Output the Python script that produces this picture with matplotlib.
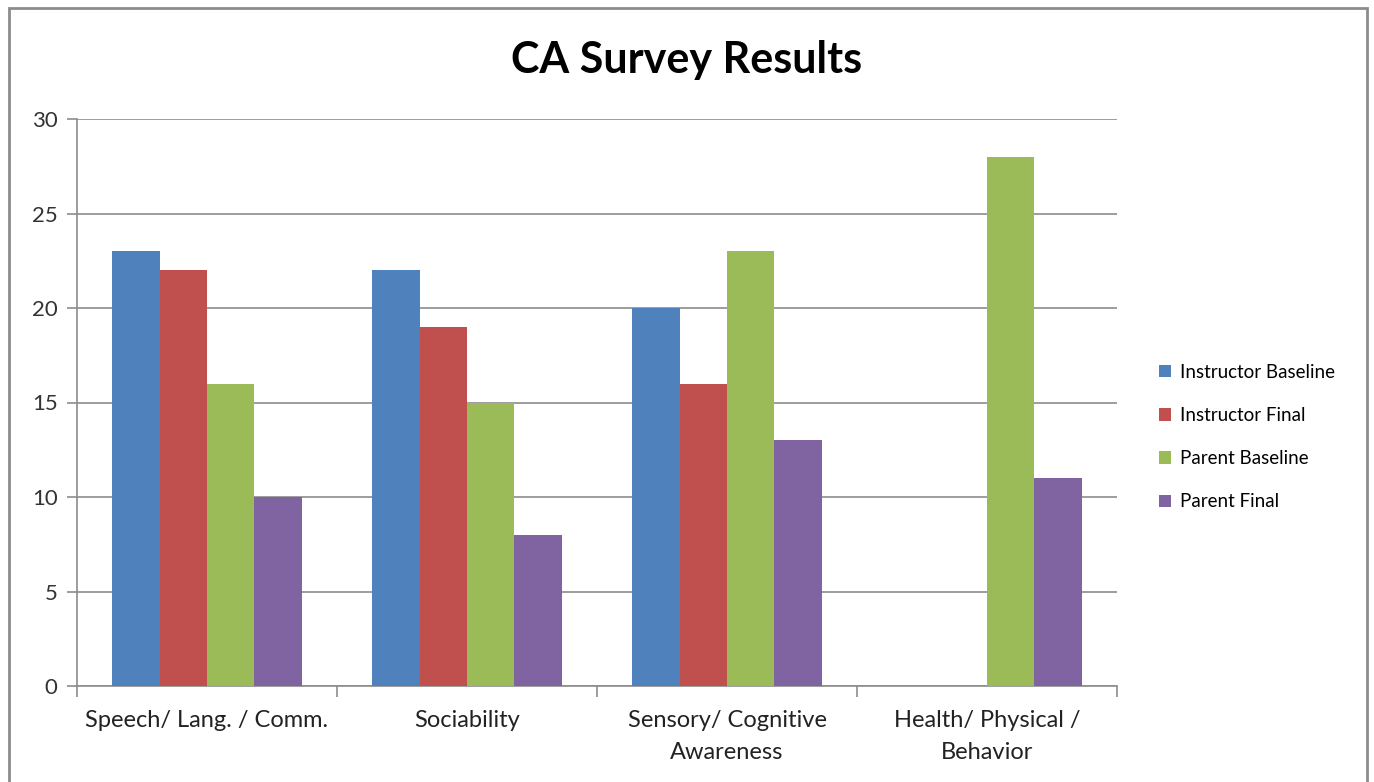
import numpy as np
import matplotlib.pyplot as plt
from matplotlib.patches import Rectangle

categories = ["Speech/ Lang. / Comm.", "Sociability",
              "Sensory/ Cognitive\nAwareness", "Health/ Physical /\nBehavior"]
series_names = ["Instructor Baseline", "Instructor Final",
                "Parent Baseline", "Parent Final"]
instructor_baseline = [23, 22, 20, 0]
instructor_final = [22, 19, 16, 0]
parent_baseline = [16, 15, 23, 28]
parent_final = [10, 8, 13, 11]
colors = ["#4F81BD", "#C0504D", "#9BBB59", "#8064A2"]

plt.rcParams["font.family"] = ["Lato", "DejaVu Sans"]

fig = plt.figure(figsize=(13.74, 7.82), dpi=100)
ax = fig.add_axes([77 / 1374, 1 - 686 / 782, 1040 / 1374, 567 / 782])

x = np.arange(len(categories))
width = 0.73 / 4
all_series = [instructor_baseline, instructor_final, parent_baseline, parent_final]
for i, (vals, name, c) in enumerate(zip(all_series, series_names, colors)):
    ax.bar(x - 0.365 + width * (i + 0.5), vals, width, color=c, label=name,
           zorder=3, linewidth=0)

ax.set_xlim(-0.5, len(categories) - 0.5)
ax.set_ylim(0, 30)
ax.set_yticks(range(0, 31, 5))
ax.yaxis.grid(True, color="#8c8c8c", linewidth=1.2, zorder=0)
for s in ["top", "right"]:
    ax.spines[s].set_visible(False)
ax.spines["left"].set_color("#8c8c8c")
ax.spines["bottom"].set_color("#8c8c8c")
ax.spines["left"].set_linewidth(1.2)
ax.spines["bottom"].set_linewidth(1.2)
ax.tick_params(axis="y", colors="#8c8c8c", labelcolor="#333333",
               labelsize=16, length=7, width=1.2, pad=7)

# category ticks sit between the groups; labels go in the middle
ax.set_xticks(np.arange(-0.5, len(categories), 1.0))
ax.set_xticklabels([])
ax.tick_params(axis="x", colors="#8c8c8c", length=8, width=1.2)
ax.set_xticks(x, minor=True)
ax.set_xticklabels(categories, minor=True, fontsize=17, color="#222222",
                   linespacing=1.65)
ax.tick_params(axis="x", which="minor", length=0, pad=17)

fig.text(0.5, 1 - 60 / 782, "CA Survey Results", ha="center", va="center",
         fontsize=31, fontweight="bold", color="black")

handles, labels = ax.get_legend_handles_labels()
fig.legend(handles, labels, loc="center left",
           bbox_to_anchor=(1142 / 1374, 1 - 437 / 782), frameon=False,
           fontsize=13.5, handlelength=0.65, handleheight=0.65,
           handletextpad=0.45, labelspacing=1.4)

# outer chart frame
fig.patches.append(Rectangle((9 / 1374, -0.05), 1358 / 1374, 1.05 - 8 / 782,
                             transform=fig.transFigure, fill=False,
                             edgecolor="#8c8c8c", linewidth=2))

fig.savefig("out.png", dpi=100)
